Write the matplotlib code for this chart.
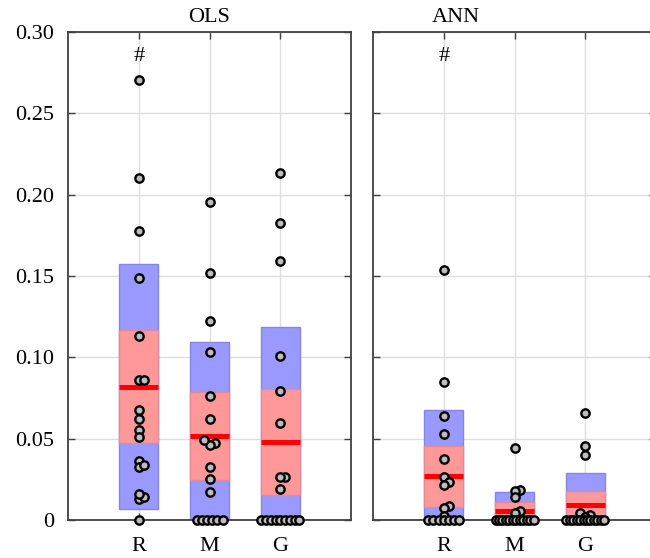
import numpy as np
import matplotlib
matplotlib.use('Agg')
import matplotlib.pyplot as plt
from matplotlib.patches import Rectangle

plt.rcParams['font.family'] = ['Liberation Serif', 'DejaVu Serif']

categories = ['R', 'M', 'G']
panel_titles = ['OLS', 'ANN']

ols_R = [0.2706, 0.2105, 0.1777, 0.1490, 0.1129, 0.0861, 0.0861, 0.0676, 0.0619,
         0.0551, 0.0510, 0.0361, 0.0326, 0.0338, 0.0127, 0.0143, 0.0160, 0.0]
ols_M = [0.1953, 0.1517, 0.1226, 0.1031, 0.0763, 0.0619, 0.0476, 0.0461, 0.0492,
         0.0328, 0.0252, 0.0170, 0.0, 0.0, 0.0, 0.0, 0.0, 0.0]
ols_G = [0.2136, 0.1826, 0.1590, 0.1010, 0.0795, 0.0598, 0.0266, 0.0262, 0.0193,
         0.0, 0.0, 0.0, 0.0, 0.0, 0.0, 0.0, 0.0, 0.0]
ann_R = [0.1534, 0.0851, 0.0642, 0.0531, 0.0373, 0.0262, 0.0232, 0.0215, 0.0084,
         0.0072, 0.0025, 0.0, 0.0, 0.0, 0.0, 0.0, 0.0, 0.0]
ann_M = [0.0443, 0.0183, 0.0180, 0.0143, 0.0057, 0.0041,
         0.0, 0.0, 0.0, 0.0, 0.0, 0.0, 0.0, 0.0, 0.0, 0.0, 0.0, 0.0]
ann_G = [0.0658, 0.0455, 0.0402, 0.0045, 0.0033, 0.0018,
         0.0, 0.0, 0.0, 0.0, 0.0, 0.0, 0.0, 0.0, 0.0, 0.0, 0.0, 0.0]
panel_data = [[ols_R, ols_M, ols_G], [ann_R, ann_M, ann_G]]
marked_category = 'R'
mark_symbol = '#'
mark_value = 0.285

yticks = [0, 0.05, 0.10, 0.15, 0.20, 0.25, 0.30]
yticklabels = ['0', '0.05', '0.10', '0.15', '0.20', '0.25', '0.30']

W, H, DPI = 650, 558, 100
fig = plt.figure(figsize=(W / DPI, H / DPI), dpi=DPI)
ax_w = 283 / W
ax_h = 488 / H
ax_b = 38 / H
lefts = [68 / W, 373 / W]
title_x = [0.5, 0.293]

xlim = (0, 4)
ylim = (0, 0.30)
xscale = 283 / (xlim[1] - xlim[0])   # px per data unit
yscale = 488 / (ylim[1] - ylim[0])
half_w = 0.275
FS = 16


def swarm(vals, d=5.2, maxhalf=19.0):
    vals = np.asarray(vals, float)
    offs = np.zeros(len(vals))
    tie = np.zeros(len(vals), bool)
    uniq, counts = np.unique(vals, return_counts=True)
    for u, c in zip(uniq, counts):
        if c > 2:
            idx = np.where(vals == u)[0]
            half = min((c - 1) * d / 2, maxhalf)
            offs[idx] = np.linspace(-half, half, c)
            tie[idx] = True
    placed = []
    cands = [0.0]
    for k in range(1, 12):
        cands += [k * d, -k * d]
    for i in np.argsort(vals):
        if tie[i]:
            continue
        y = vals[i] * yscale
        chosen = 0.0
        for c in cands:
            if all(np.hypot(c - px, y - py) >= d for px, py in placed):
                chosen = c
                break
        offs[i] = chosen
        placed.append((chosen, y))
    return offs / xscale


for p, (title, groups) in enumerate(zip(panel_titles, panel_data)):
    ax = fig.add_axes([lefts[p], ax_b, ax_w, ax_h])
    ax.set_xlim(*xlim)
    ax.set_ylim(*ylim)
    ax.grid(True, color='#dedede', linewidth=1.0, zorder=0)
    ax.set_axisbelow(True)
    for i, (cat, vals) in enumerate(zip(categories, groups)):
        x = i + 1
        v = np.asarray(vals, float)
        m = v.mean()
        sd = v.std(ddof=1)
        ci = 1.96 * sd / np.sqrt(len(v))
        ax.add_patch(Rectangle((x - half_w, m - sd), 2 * half_w, 2 * sd,
                               facecolor='#9999ff', edgecolor='#8585e6',
                               linewidth=1.0, zorder=2))
        ax.add_patch(Rectangle((x - half_w, m - ci), 2 * half_w, 2 * ci,
                               facecolor='#ff9999', edgecolor='#e08a9a',
                               linewidth=1.0, zorder=3))
        ax.plot([x - half_w, x + half_w], [m, m], color='#ff0000',
                linewidth=3.6, solid_capstyle='butt', zorder=4)
        offs = swarm(v)
        ax.scatter(x + offs, v, s=36, facecolor='#bdbdbd', edgecolor='black',
                   linewidth=1.7, zorder=5, clip_on=False)
        if cat == marked_category:
            ax.text(x, mark_value, mark_symbol, ha='center', va='center',
                    fontsize=FS, zorder=6)
    ax.set_xticks(range(1, len(categories) + 1))
    ax.set_xticklabels(categories)
    ax.set_yticks(yticks)
    if p == 0:
        ax.set_yticklabels(yticklabels)
    else:
        ax.set_yticklabels([])
    ax.set_title(title, fontsize=FS, pad=7, x=title_x[p])
    ax.tick_params(direction='in', length=5, width=1.0, top=True, right=True,
                   labelsize=FS, colors='black', color='#404040')
    ax.tick_params(axis='x', pad=12)
    ax.tick_params(axis='y', pad=10)
    for s in ax.spines.values():
        s.set_color('#404040')
        s.set_linewidth(1.3)

fig.savefig('out.png', dpi=DPI)
